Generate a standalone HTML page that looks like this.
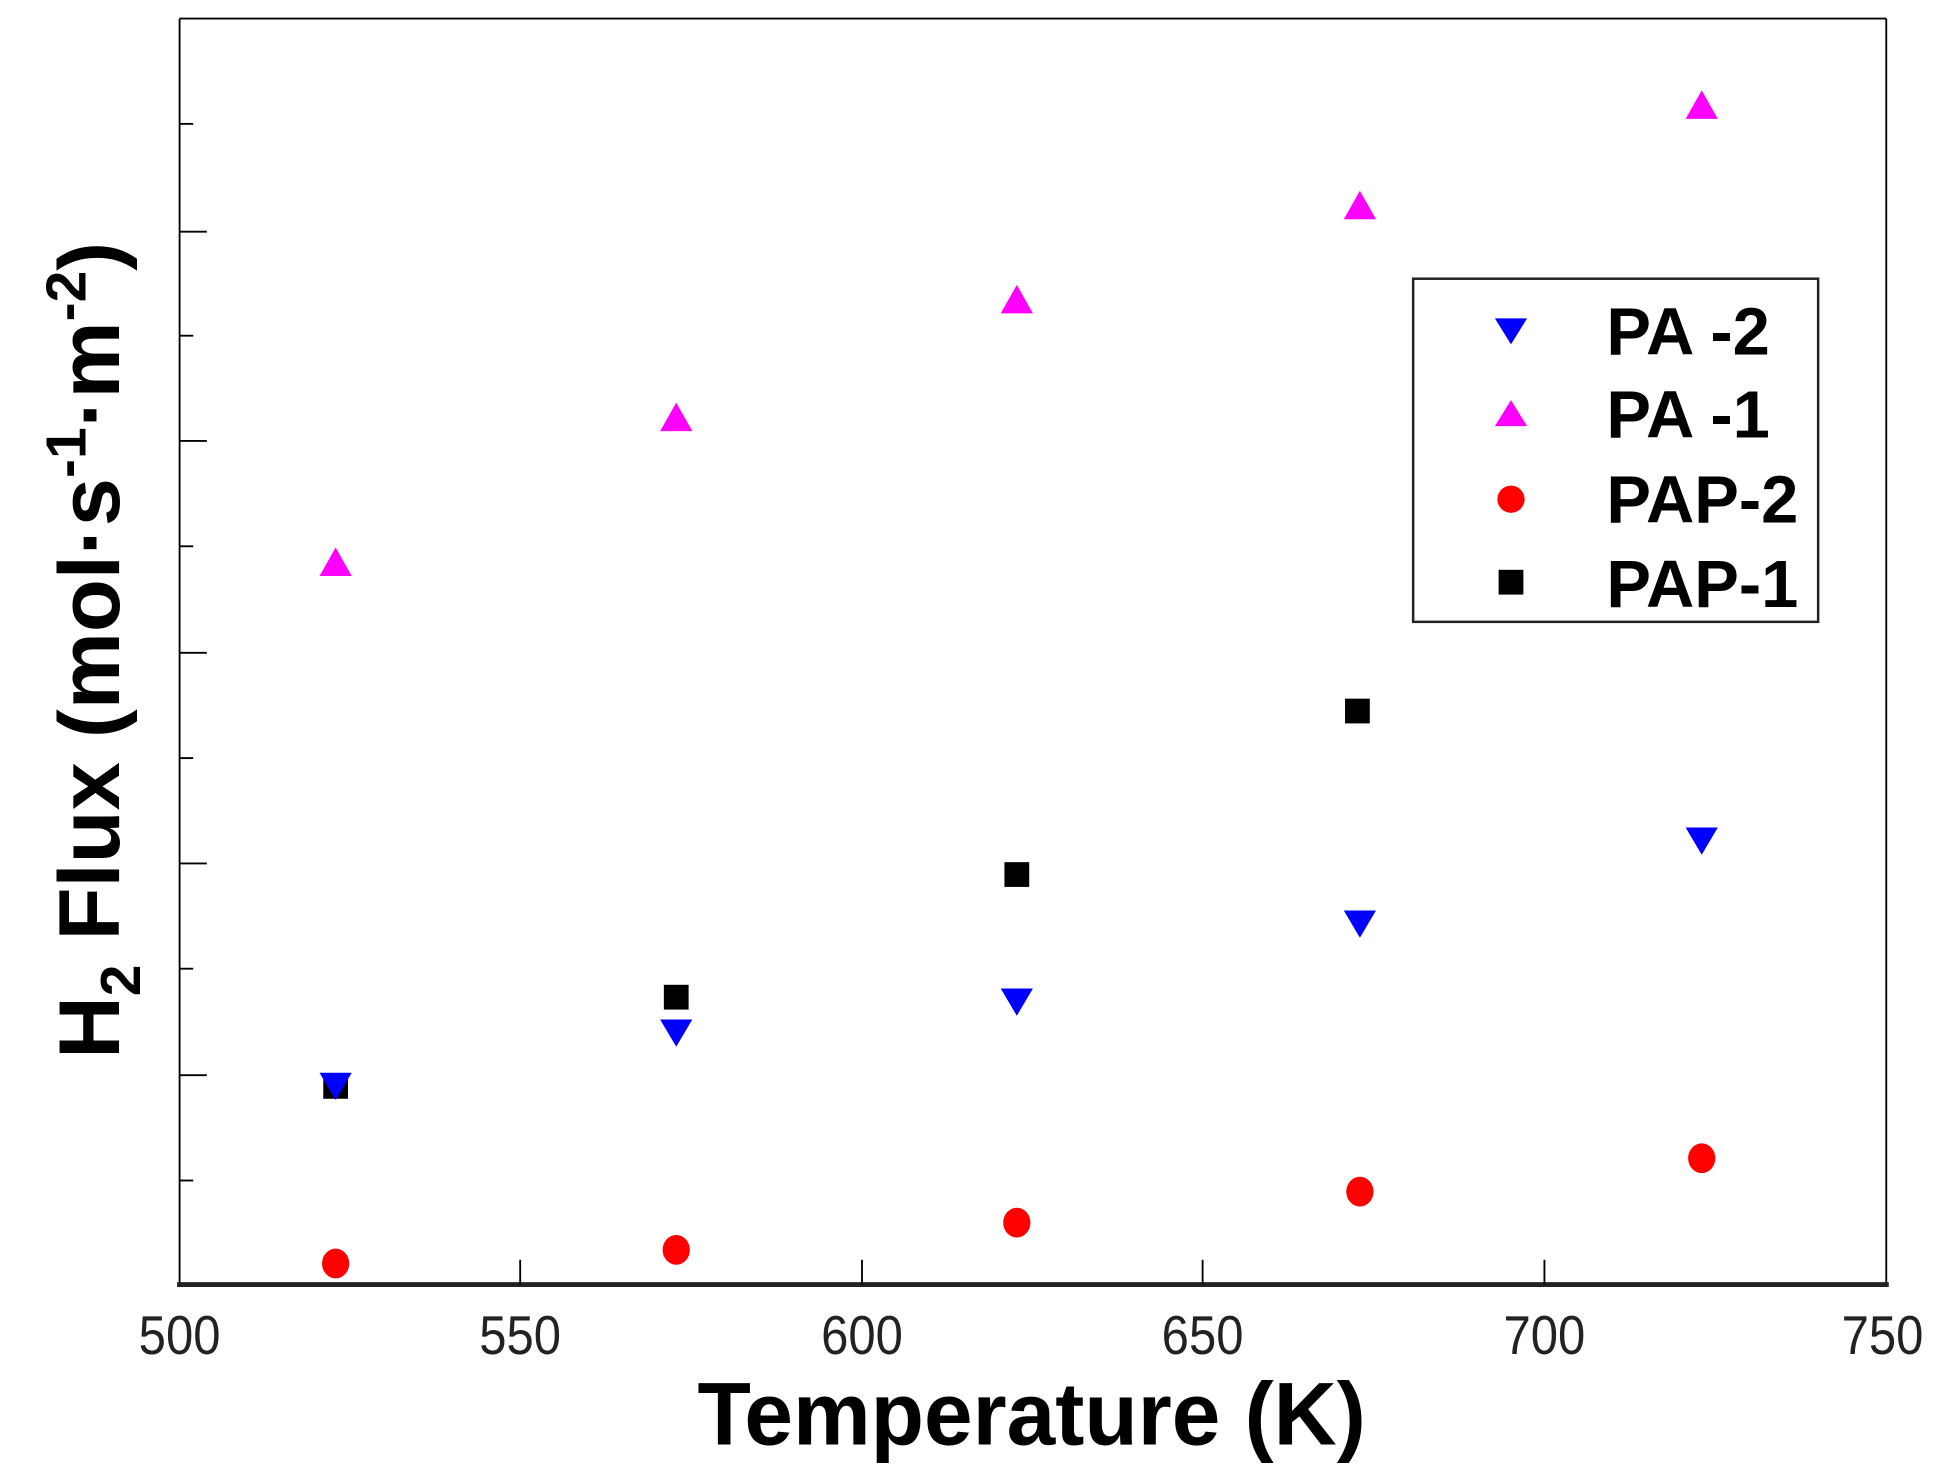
<!DOCTYPE html>
<html><head><meta charset="utf-8"><style>html,body{margin:0;padding:0;background:#fff}svg{display:block}</style></head>
<body>
<svg width="1942" height="1484" viewBox="0 0 1568 1198" preserveAspectRatio="none" xmlns="http://www.w3.org/2000/svg" font-family="Liberation Sans, Arial, sans-serif">
<rect width="1568" height="1198" fill="#fff"/>
<line x1="145" y1="15" x2="1523" y2="15" stroke="#000" stroke-width="1.5"/>
<line x1="145" y1="15" x2="145" y2="1037" stroke="#000" stroke-width="1.5"/>
<line x1="1523" y1="15" x2="1523" y2="1037" stroke="#000" stroke-width="1.5"/>
<line x1="143" y1="1037" x2="1525" y2="1037" stroke="#222" stroke-width="4"/>
<g stroke="#000" stroke-width="1.5">
<line x1="420" y1="1037" x2="420" y2="1017"/>
<line x1="696" y1="1037" x2="696" y2="1017"/>
<line x1="971" y1="1037" x2="971" y2="1017"/>
<line x1="1247" y1="1037" x2="1247" y2="1017"/>
<line x1="145" y1="187" x2="167" y2="187"/>
<line x1="145" y1="356" x2="167" y2="356"/>
<line x1="145" y1="527" x2="167" y2="527"/>
<line x1="145" y1="697" x2="167" y2="697"/>
<line x1="145" y1="868" x2="167" y2="868"/>
<line x1="145" y1="100" x2="156" y2="100"/>
<line x1="145" y1="271" x2="156" y2="271"/>
<line x1="145" y1="441" x2="156" y2="441"/>
<line x1="145" y1="612" x2="156" y2="612"/>
<line x1="145" y1="782" x2="156" y2="782"/>
<line x1="145" y1="953" x2="156" y2="953"/>
</g>
<g font-size="44" fill="#222" text-anchor="middle">
<text x="145" y="1093" transform="translate(145 0) scale(0.9 1) translate(-145 0)">500</text>
<text x="420" y="1093" transform="translate(420 0) scale(0.9 1) translate(-420 0)">550</text>
<text x="696" y="1093" transform="translate(696 0) scale(0.9 1) translate(-696 0)">600</text>
<text x="971" y="1093" transform="translate(971 0) scale(0.9 1) translate(-971 0)">650</text>
<text x="1247" y="1093" transform="translate(1247 0) scale(0.9 1) translate(-1247 0)">700</text>
<text x="1520" y="1093" transform="translate(1520 0) scale(0.9 1) translate(-1520 0)">750</text>
</g>
<text x="833" y="1166" font-size="72" font-weight="bold" text-anchor="middle" transform="translate(833 0) scale(0.98 1) translate(-833 0)">Temperature (K)</text>
<text transform="translate(96 525) rotate(-90)" font-size="70" font-weight="bold" text-anchor="middle">H<tspan font-size="46" dy="17">2</tspan><tspan dy="-17"> Flux (mol·s</tspan><tspan font-size="46" dy="-27">-1</tspan><tspan dy="27">·m</tspan><tspan font-size="46" dy="-27">-2</tspan><tspan dy="27">)</tspan></text>
<g fill="#f0f">
<polygon points="271,442 258,465 284,465"/>
<polygon points="546,325 533,348 559,348"/>
<polygon points="821,230 808,253 834,253"/>
<polygon points="1098,154 1085,177 1111,177"/>
<polygon points="1374,73 1361,96 1387,96"/>
</g>
<g fill="#000">
<rect x="261" y="867" width="20" height="20"/>
<rect x="536" y="795" width="20" height="20"/>
<rect x="811" y="696" width="20" height="20"/>
<rect x="1086" y="564" width="20" height="20"/>
</g>
<g fill="#00f">
<polygon points="258,866 284,866 271,888"/>
<polygon points="533,823 559,823 546,845"/>
<polygon points="808,798 834,798 821,820"/>
<polygon points="1085,735 1111,735 1098,757"/>
<polygon points="1361,668 1387,668 1374,690"/>
</g>
<g fill="#f00">
<ellipse cx="271" cy="1020" rx="11" ry="12"/>
<ellipse cx="546" cy="1009" rx="11" ry="12"/>
<ellipse cx="821" cy="987" rx="11" ry="12"/>
<ellipse cx="1098" cy="962" rx="11" ry="12"/>
<ellipse cx="1374" cy="935" rx="11" ry="12"/>
</g>
<rect x="1141" y="225" width="327" height="277" fill="#fff" stroke="#222" stroke-width="2"/>
<polygon points="1207,257 1233,257 1220,278" fill="#00f"/>
<polygon points="1220,323 1207,344 1233,344" fill="#f0f"/>
<circle cx="1220" cy="403" r="11" fill="#f00"/>
<rect x="1210" y="460" width="20" height="20" fill="#000"/>
<g font-size="54" font-weight="bold" fill="#000">
<text x="1297" y="286">PA -2</text>
<text x="1297" y="353">PA -1</text>
<text x="1297" y="422">PAP-2</text>
<text x="1297" y="490">PAP-1</text>
</g>
</svg>
</body></html>
